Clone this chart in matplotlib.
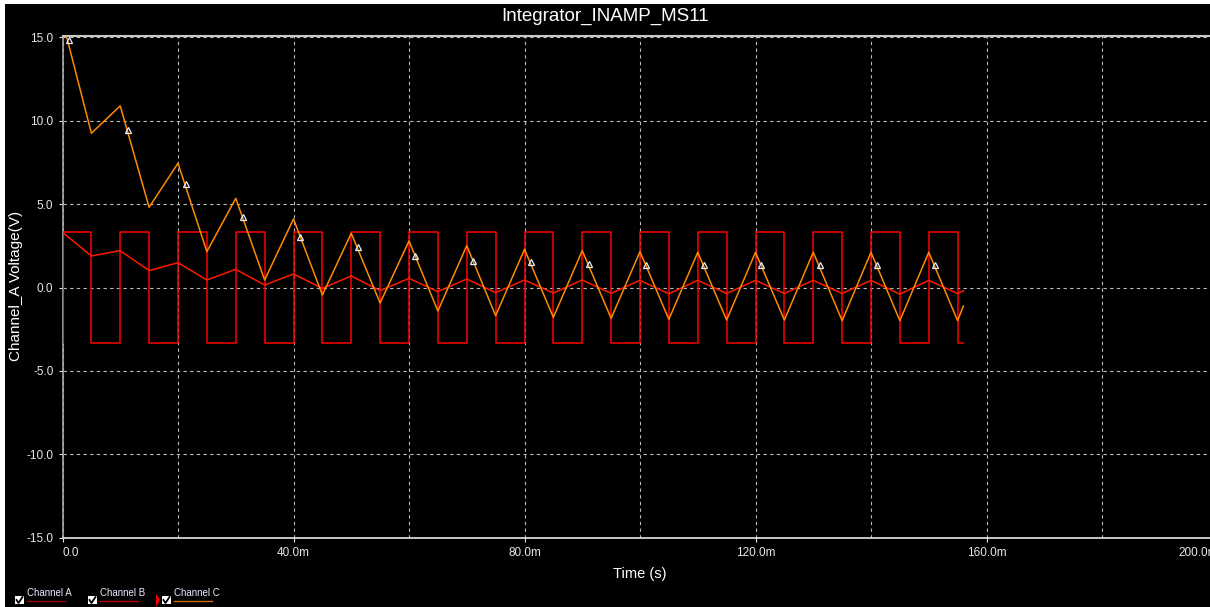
import matplotlib.pyplot as plt
from matplotlib.patches import Rectangle, Polygon
from matplotlib.lines import Line2D

plt.rcParams['font.family'] = ['Liberation Sans', 'DejaVu Sans']

# time samples (ms)
t = [0, 5, 10, 15, 20, 25, 30, 35, 40, 45, 50, 55, 60, 65, 70, 75, 80,
     85, 90, 95, 100, 105, 110, 115, 120, 125, 130, 135, 140, 145, 150, 155, 156]

# channel A: square wave input (V), first sample jumps from low to high at t=0
sq_t = [0] + t
sq_v = [-3.3, 3.3, -3.3, 3.3, -3.3, 3.3, -3.3, 3.3, -3.3, 3.3, -3.3, 3.3,
        -3.3, 3.3, -3.3, 3.3, -3.3, 3.3, -3.3, 3.3, -3.3, 3.3, -3.3, 3.3,
        -3.3, 3.3, -3.3, 3.3, -3.3, 3.3, -3.3, 3.3, -3.3, -3.3]

# channel B: small triangle (V)
ch_b = [3.31, 1.89, 2.21, 1.01, 1.49, 0.45, 1.09, 0.15, 0.81, -0.05, 0.69, -0.19,
        0.55, -0.25, 0.51, -0.31, 0.45, -0.33, 0.45, -0.35, 0.43, -0.38, 0.43,
        -0.36, 0.43, -0.36, 0.43, -0.36, 0.43, -0.40, 0.43, -0.36, -0.20]

# channel C: integrator output (V)
ch_c = [16.0, 9.25, 10.89, 4.81, 7.45, 2.15, 5.35, 0.45, 4.11, -0.45, 3.25, -0.93,
        2.79, -1.41, 2.51, -1.69, 2.29, -1.79, 2.21, -1.85, 2.15, -1.91, 2.11,
        -1.95, 2.11, -1.95, 2.11, -1.99, 2.11, -1.99, 2.11, -1.99, -1.11]

# cursor markers on channel C
mk_t = [1.2, 11.3, 21.3, 31.3, 41.2, 51.2, 61.1, 71.1, 81.2, 91.1, 101.1, 111.0,
        121.0, 131.1, 141.1, 151.1]
mk_v = [14.85, 9.45, 6.2, 4.23, 3.03, 2.43, 1.91, 1.61, 1.51, 1.39, 1.33, 1.33,
        1.33, 1.33, 1.33, 1.33]

x_major = [0, 40, 80, 120, 160, 200]
x_labels = ['0.0', '40.0m', '80.0m', '120.0m', '160.0m', '200.0m']
y_major = [-15, -10, -5, 0, 5, 10, 15]
y_labels = ['-15.0', '-10.0', '-5.0', '0.0', '5.0', '10.0', '15.0']

W, H = 1210, 607
fig = plt.figure(figsize=(W / 100, H / 100), dpi=100, facecolor='black')
ax = fig.add_axes([62.5 / W, (H - 538) / H, (1217.5 - 62.5) / W, (538 - 36) / H])
ax.set_facecolor('black')

ax.plot(sq_t, sq_v, drawstyle='steps-post', color='#ff0000', lw=1.1, zorder=3)
ax.plot(t, ch_b, color='#ff1a00', lw=1.1, zorder=4)
ax.plot(t, ch_c, color='#ff8a00', lw=1.1, zorder=5)
ax.plot(mk_t, mk_v, ls='none', marker='^', ms=5, mfc='none', mec='#e6eeff',
        mew=0.9, zorder=6)

ax.set_xlim(0, 200)
ax.set_ylim(-15.02, 15.08)

ax.set_xticks(x_major)
ax.set_xticklabels(x_labels)
ax.set_xticks([20, 60, 100, 140, 180], minor=True)
ax.set_yticks(y_major)
ax.set_yticklabels(y_labels)
ax.xaxis.get_ticklabels()[0].set_horizontalalignment('left')
ax.xaxis.get_ticklabels()[-1].set_horizontalalignment('right')

ax.tick_params(which='major', colors='#e8e8e8', labelsize=8.5, length=3, width=0.8, pad=3.5)
ax.tick_params(which='minor', length=0)
ax.grid(True, which='both', color='#bcbcbc', ls=(0, (3, 3)), lw=0.8)

ax.spines['right'].set_visible(False)
ax.spines['top'].set_color('#c8c8c8')
ax.spines['top'].set_linewidth(1.5)
ax.spines['bottom'].set_color('#e8e8e8')
ax.spines['bottom'].set_linewidth(1.2)
ax.spines['left'].set_color('#a8a8a8')
ax.spines['left'].set_linewidth(1.2)

fig.text(0.5, 1 - 16 / H, 'Integrator_INAMP_MS11', color='white', fontsize=13.5,
         ha='center', va='center')
fig.text(639.5 / W, 1 - 574 / H, 'Time (s)', color='white', fontsize=10.5,
         ha='center', va='center')
fig.text(16 / W, 1 - 285.5 / H, 'Channel_A Voltage(V)', color='white', fontsize=11,
         rotation=90, ha='center', va='center')

# white frame strips at top and left edges
fig.patches.append(Rectangle((0, 1 - 4 / H), 1, 4 / H, transform=fig.transFigure,
                             facecolor='white', edgecolor='none'))
fig.patches.append(Rectangle((0, 0), 5 / W, 1, transform=fig.transFigure,
                             facecolor='white', edgecolor='none'))

# legend strip with checkboxes
legend = [('Channel A', 15, '#a00000'), ('Channel B', 88, '#c00000'),
          ('Channel C', 162, '#c87010')]
for name, x0, col in legend:
    fig.patches.append(Rectangle((x0 / W, 1 - 604 / H), 9 / W, 8 / H,
                                 transform=fig.transFigure, facecolor='white',
                                 edgecolor='none'))
    fig.lines.append(Line2D([(x0 + 1.5) / W, (x0 + 3.5) / W, (x0 + 7.5) / W],
                            [1 - 600 / H, 1 - 603 / H, 1 - 597 / H],
                            transform=fig.transFigure, color='black', lw=1.3))
    fig.text((x0 + 12) / W, 1 - 592.5 / H, name, color='#e6eeff', fontsize=7,
             ha='left', va='center')
    fig.lines.append(Line2D([(x0 + 12) / W, (x0 + 50) / W], [1 - 601 / H, 1 - 601 / H],
                            transform=fig.transFigure, color=col, lw=1.0))
fig.patches.append(Polygon([(156 / W, 1 - 594 / H), (160 / W, 1 - 600 / H),
                            (156 / W, 1 - 607 / H)], closed=True,
                           transform=fig.transFigure, facecolor='#ff0000',
                           edgecolor='none'))

fig.savefig('out.png', dpi=100, facecolor='black')
